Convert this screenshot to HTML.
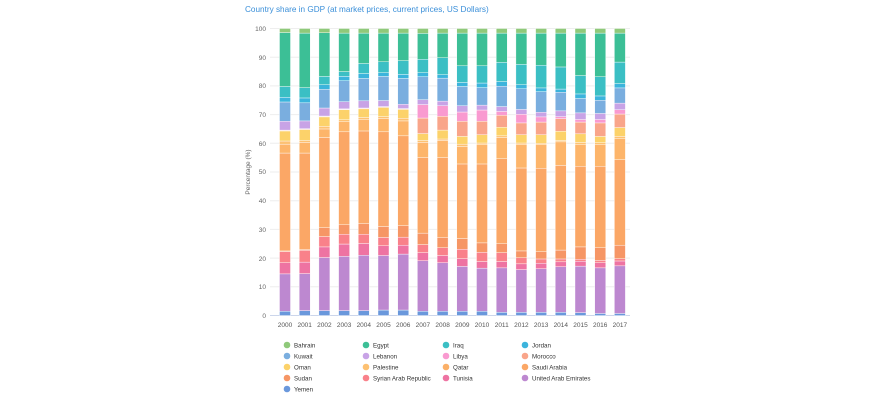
<!DOCTYPE html>
<html><head><meta charset="utf-8"><style>
body{margin:0;background:#fff;width:870px;height:400px;overflow:hidden;font-family:"Liberation Sans",sans-serif}
</style></head><body>
<svg id="s" width="870" height="400" xmlns="http://www.w3.org/2000/svg" font-family="Liberation Sans, sans-serif">
<text x="245" y="12" font-size="8.2" fill="#3a8fd9">Country share in GDP (at market prices, current prices, US Dollars)</text>
<g stroke="#eeeeee" stroke-width="1">
<line x1="270" x2="630" y1="28.5" y2="28.5"/><line x1="270" x2="630" y1="57.2" y2="57.2"/><line x1="270" x2="630" y1="85.9" y2="85.9"/><line x1="270" x2="630" y1="114.6" y2="114.6"/><line x1="270" x2="630" y1="143.3" y2="143.3"/><line x1="270" x2="630" y1="172" y2="172"/><line x1="270" x2="630" y1="200.7" y2="200.7"/><line x1="270" x2="630" y1="229.4" y2="229.4"/><line x1="270" x2="630" y1="258.1" y2="258.1"/><line x1="270" x2="630" y1="286.8" y2="286.8"/>
</g>
<line x1="270" x2="630" y1="315.5" y2="315.5" stroke="#ccd6eb"/>
<g font-size="6.5" fill="#666" text-anchor="end">
<text x="266" y="31">100</text><text x="266" y="60">90</text><text x="266" y="88">80</text><text x="266" y="117">70</text><text x="266" y="146">60</text><text x="266" y="174">50</text><text x="266" y="203">40</text><text x="266" y="232">30</text><text x="266" y="261">20</text><text x="266" y="289">10</text><text x="266" y="318">0</text>
</g>
<text transform="translate(250,172) rotate(-90)" font-size="6.5" fill="#666" text-anchor="middle">Percentage (%)</text>
<g id="bars"></g>
<g font-size="6.5" fill="#555" text-anchor="middle">
<text x="285" y="327">2000</text><text x="304.7" y="327">2001</text><text x="324.4" y="327">2002</text><text x="344.1" y="327">2003</text><text x="363.8" y="327">2004</text><text x="383.5" y="327">2005</text><text x="403.2" y="327">2006</text><text x="422.9" y="327">2007</text><text x="442.6" y="327">2008</text><text x="462.3" y="327">2009</text><text x="482" y="327">2010</text><text x="501.7" y="327">2011</text><text x="521.4" y="327">2012</text><text x="541.1" y="327">2013</text><text x="560.8" y="327">2014</text><text x="580.5" y="327">2015</text><text x="600.2" y="327">2016</text><text x="619.9" y="327">2017</text>
</g>
<g font-size="6.2" fill="#333">
<circle cx="287" cy="345" r="3.3" fill="#8fc97a"/><text x="294" y="347.5">Bahrain</text>
<circle cx="366" cy="345" r="3.3" fill="#3cbf96"/><text x="373" y="347.5">Egypt</text>
<circle cx="446" cy="345" r="3.3" fill="#3bbfc4"/><text x="453" y="347.5">Iraq</text>
<circle cx="525" cy="345" r="3.3" fill="#3cb4dc"/><text x="532" y="347.5">Jordan</text>
<circle cx="287" cy="356" r="3.3" fill="#7aaedf"/><text x="294" y="358.5">Kuwait</text>
<circle cx="366" cy="356" r="3.3" fill="#c8a3e6"/><text x="373" y="358.5">Lebanon</text>
<circle cx="446" cy="356" r="3.3" fill="#f99ad0"/><text x="453" y="358.5">Libya</text>
<circle cx="525" cy="356" r="3.3" fill="#f9a58a"/><text x="532" y="358.5">Morocco</text>
<circle cx="287" cy="367" r="3.3" fill="#fcd26a"/><text x="294" y="369.5">Oman</text>
<circle cx="366" cy="367" r="3.3" fill="#fdc172"/><text x="373" y="369.5">Palestine</text>
<circle cx="446" cy="367" r="3.3" fill="#fbb068"/><text x="453" y="369.5">Qatar</text>
<circle cx="525" cy="367" r="3.3" fill="#fba766"/><text x="532" y="369.5">Saudi Arabia</text>
<circle cx="287" cy="378" r="3.3" fill="#f69665"/><text x="294" y="380.5">Sudan</text>
<circle cx="366" cy="378" r="3.3" fill="#f9818a"/><text x="373" y="380.5">Syrian Arab Republic</text>
<circle cx="446" cy="378" r="3.3" fill="#ee73a2"/><text x="453" y="380.5">Tunisia</text>
<circle cx="525" cy="378" r="3.3" fill="#bd88d0"/><text x="532" y="380.5">United Arab Emirates</text>
<circle cx="287" cy="389" r="3.3" fill="#6a98dc"/><text x="294" y="391.5">Yemen</text>
</g>
</svg>
<script>
var cols=["#6a98dc","#bd88d0","#ee73a2","#f9818a","#f69665","#fba766","#fdb56a","#fdc172","#fcd26a","#f9a58a","#f99ad0","#c8a3e6","#7aaedf","#3cb4dc","#3bbfc4","#3cbf96","#8fc97a"];
var d=[
[1.5,14.5,18.4,22.2,22.5,56.6,59.7,60.8,64.3,64.5,64.6,67.7,74.4,76,79.8,98.6,100],
[1.7,14.6,18.6,22.7,23,56.6,60.3,61,64.8,65,65.1,67.8,74.1,75.8,79.4,98.4,100],
[1.7,20.2,23.9,27.5,30.6,62,65,65.9,69.2,69.4,69.5,72.3,78.8,80.4,83.3,98.5,100],
[1.7,20.6,24.9,28.3,31.6,64,67.5,68.2,71.7,71.9,72,74.5,81.8,83.3,85,98.4,100],
[1.7,21,25.1,28.3,32,64.3,68.2,69,72,72.2,72.3,74.8,82.6,84.3,87.8,98.4,100],
[1.9,20.9,24.3,27.2,31,64,68.6,69.3,72.5,72.7,72.8,74.9,83.3,84.6,88.4,98.4,100],
[1.9,21.4,24.5,27.3,31.3,62.6,67.8,68.7,71.8,72,72.1,73.6,82.6,84,88.8,98.4,100],
[1.5,19.1,21.9,24.7,28.7,55,60.3,61,63.4,68.8,73.5,75.2,83.2,84.6,89.3,98.3,100],
[1.5,18.4,20.9,23.6,27.1,55,61,61.5,64.6,69.4,73.1,74.7,82.7,83.9,89.8,98.4,100],
[1.5,17.1,19.8,23.1,26.8,52.8,58.9,59.7,62.4,67.7,70.9,73.1,79.8,81.2,87,98.4,100],
[1.5,16.5,18.8,22,25.3,52.8,59.5,60.1,63,67.7,71.6,73.3,79.4,81,87,98.4,100],
[1.1,16.6,18.8,21.9,25,54.6,62,62.6,65.6,69.8,71.1,72.8,79.9,81.5,88.2,98.4,100],
[1.1,16,18,20.1,22.5,51.4,59.5,60.1,63,67.1,70.1,71.8,79,80.4,87.5,98.4,100],
[1.1,16.3,18.2,19.7,22.2,51.3,59.5,60,63,67.4,69.2,70.8,78,79.3,87.2,98.4,100],
[1.1,17,18.7,19.7,22.8,52.3,60.5,61,64.2,68.6,69.3,71.3,77.8,78.9,86.6,98.4,100],
[1,17.2,18.9,19.6,23.9,52,59.5,60.3,63.3,67.4,68.3,70.6,75.6,77.2,83.6,98.4,100],
[0.7,16.6,18.4,19.2,23.6,52,59.5,60.2,62.4,67.1,68.3,70.4,75,76.5,83.2,98.4,100],
[0.7,17.3,19,19.8,24.5,54.3,61.6,62.4,65.5,70.2,71.7,74,79.3,80.8,88.3,98.4,100]];
var g=document.getElementById("bars"),h="";
function Y(v){return 315.5-v*2.87;}
d.forEach(function(r,i){var cx=285+i*19.7,p=0;r.forEach(function(v,k){var y1=Y(v),y0=Y(p);h+='<rect x="'+(cx-5.5)+'" y="'+y1+'" width="11" height="'+Math.max(0,y0-y1)+'" fill="'+cols[k]+'" stroke="#fff" stroke-width="0.4"/>';p=v;});});
g.innerHTML=h;
</script>
</body></html>
